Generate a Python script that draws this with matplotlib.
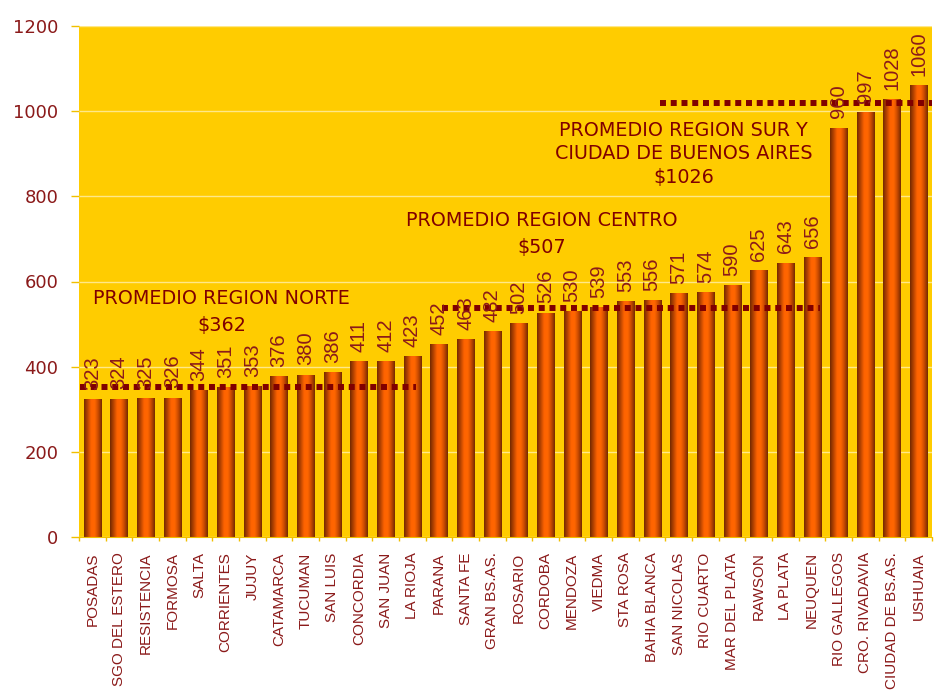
import numpy as np
import matplotlib
matplotlib.use("Agg")
import matplotlib.pyplot as plt
from matplotlib.colors import LinearSegmentedColormap

# --- data ---
cities = ["POSADAS", "SGO DEL ESTERO", "RESISTENCIA", "FORMOSA", "SALTA",
          "CORRIENTES", "JUJUY", "CATAMARCA", "TUCUMAN", "SAN LUIS",
          "CONCORDIA", "SAN JUAN", "LA RIOJA", "PARANA", "SANTA FE",
          "GRAN BS.AS.", "ROSARIO", "CORDOBA", "MENDOZA", "VIEDMA",
          "STA ROSA", "BAHIA BLANCA", "SAN NICOLAS", "RIO CUARTO",
          "MAR DEL PLATA", "RAWSON", "LA PLATA", "NEUQUEN", "RIO GALLEGOS",
          "CRO. RIVADAVIA", "CIUDAD DE BS.AS.", "USHUAIA"]
values = [323, 324, 325, 326, 344, 351, 353, 376, 380, 386,
          411, 412, 423, 452, 463, 482, 502, 526, 530, 539,
          553, 556, 571, 574, 590, 625, 643, 656, 960, 997, 1028, 1060]

region_labels = ["PROMEDIO REGION NORTE\n$362",
                 "PROMEDIO REGION CENTRO\n$507",
                 "PROMEDIO REGION SUR Y\nCIUDAD DE BUENOS AIRES\n$1026"]
# dotted average lines as drawn: level, first and last category covered
avg_levels = [353, 538, 1019]
avg_from = [-0.45, 13.1, 21.3]
avg_to = [12.15, 27.3, 31.5]

YELLOW = "#FFCC00"
DARK = "#800000"
TXT = "#8B1A1A"

fig = plt.figure(figsize=(9.36, 6.95), dpi=100)
ax = fig.add_axes([79 / 936, 158 / 695, 853 / 936, 511 / 695])
ax.set_facecolor(YELLOW)

x = np.arange(len(cities))
bars = ax.bar(x, values, width=0.64, color="none", zorder=2)

# shaded (cylinder-like) fill for each bar
shade = LinearSegmentedColormap.from_list(
    "shade", ["#742A00", "#B84400", "#FF6400", "#FF6600", "#C84A00", "#742A00"])
grad = np.linspace(0, 1, 64).reshape(1, -1)
for b in bars:
    x0, w, h = b.get_x(), b.get_width(), b.get_height()
    ax.imshow(grad, cmap=shade, extent=(x0, x0 + w, 0, h),
              aspect="auto", zorder=2, interpolation="bilinear")

sans = ["Liberation Sans", "DejaVu Sans"]
for xi, v in zip(x, values):
    ax.annotate(str(v), (xi, v), xytext=(0, 7), textcoords="offset points",
                rotation=90, ha="center", va="bottom", color=TXT,
                fontsize=14.5, family=sans, zorder=4)

for lvl, a, b in zip(avg_levels, avg_from, avg_to):
    ax.plot([a, b], [lvl, lvl], color=DARK, lw=4.3,
            linestyle=(0, (1, 0.8)), solid_capstyle="butt", zorder=3)

# text blocks: centre x, centre y, line spacing
text_pos = [(4.86, 528, 1.53), (16.87, 712, 1.57), (22.19, 900, 1.3)]
for (tx, ty, ls), s in zip(text_pos, region_labels):
    ax.text(tx, ty, s, ha="center", va="center", multialignment="center",
            color=DARK, fontsize=13.8, linespacing=ls, zorder=5)

ax.set_xlim(-0.5, len(cities) - 0.5)
ax.set_ylim(0, 1200)
ax.set_yticks(range(0, 1201, 200))
ax.yaxis.grid(True, color="#FFE888", lw=1)
ax.set_axisbelow(True)

ax.set_xticks(x)
ax.set_xticklabels(cities, rotation=90, family=sans, fontsize=11, color=TXT)
ax.set_xticks(np.arange(-0.5, len(cities)), minor=True)
ax.tick_params(axis="x", which="major", length=0, pad=11)
ax.tick_params(axis="x", which="minor", length=3, color="#F0C000", width=1)
ax.tick_params(axis="y", length=6, color="#F0C000", width=1, pad=9,
               labelsize=13, labelcolor=TXT)

for side in ["top", "right", "left"]:
    ax.spines[side].set_visible(False)
ax.spines["bottom"].set_color("#F0C000")

fig.savefig("out.png", dpi=100)
